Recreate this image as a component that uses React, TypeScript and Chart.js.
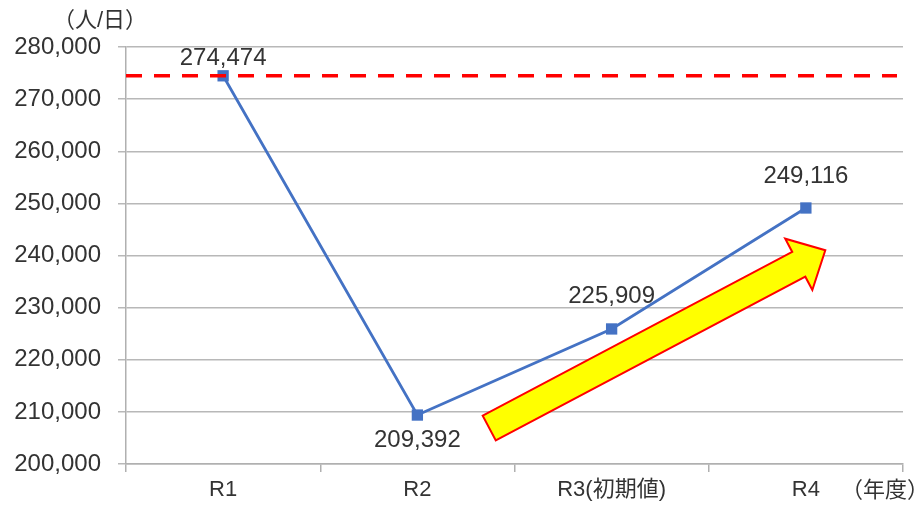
import React, { useEffect, useRef } from "react";
import { Chart, registerables } from "chart.js";

Chart.register(...registerables);

const categories = ["R1", "R2", "R3(初期値)", "R4"];
const visitors = [274474, 209392, 225909, 249116];
const targetValue = 274474;
const valueLabels = ["274,474", "209,392", "225,909", "249,116"];
const labelOffsets = [-17, 25, -33, -32];
const yMin = 200000;
const yMax = 280000;
const yStep = 10000;
const arrowFrom = { x: 1.37, y: 206900 };
const arrowTo = { x: 3.1, y: 241000 };
const yUnit = "（人/日）";
const xUnit = "（年度）";

const FONT = '"Liberation Sans", "Noto Sans CJK JP", sans-serif';
const TEXT = "#333333";

const overlayPlugin = {
  id: "overlay",
  afterDatasetsDraw(chart: any) {
    const { ctx, chartArea, scales } = chart;
    const xs = scales.x;
    const ys = scales.y;
    ctx.save();
    // target dashed line
    const ty = ys.getPixelForValue(targetValue);
    ctx.strokeStyle = "#FF0000";
    ctx.lineWidth = 3.5;
    ctx.setLineDash([16, 12]);
    ctx.beginPath();
    ctx.moveTo(chartArea.left, ty);
    ctx.lineTo(chartArea.right - 6, ty);
    ctx.stroke();
    ctx.setLineDash([]);

    // arrow
    const x0 = xs.getPixelForValue(arrowFrom.x);
    const y0 = ys.getPixelForValue(arrowFrom.y);
    const x1 = xs.getPixelForValue(arrowTo.x);
    const y1 = ys.getPixelForValue(arrowTo.y);
    const dx = x1 - x0;
    const dy = y1 - y0;
    const len = Math.hypot(dx, dy);
    const ux = dx / len;
    const uy = dy / len;
    const nx = -uy;
    const ny = ux;
    const shaft = 14;
    const head = 29;
    const headLen = 30;
    const bx = x1 - ux * headLen;
    const by = y1 - uy * headLen;
    ctx.beginPath();
    ctx.moveTo(x0 + nx * shaft, y0 + ny * shaft);
    ctx.lineTo(bx + nx * shaft, by + ny * shaft);
    ctx.lineTo(bx + nx * head, by + ny * head);
    ctx.lineTo(x1, y1);
    ctx.lineTo(bx - nx * head, by - ny * head);
    ctx.lineTo(bx - nx * shaft, by - ny * shaft);
    ctx.lineTo(x0 - nx * shaft, y0 - ny * shaft);
    ctx.closePath();
    ctx.fillStyle = "#FFFF00";
    ctx.fill();
    ctx.strokeStyle = "#FF0000";
    ctx.lineWidth = 2;
    ctx.lineJoin = "miter";
    ctx.stroke();

    // data labels
    ctx.font = `24px ${FONT}`;
    ctx.fillStyle = TEXT;
    ctx.textAlign = "center";
    ctx.textBaseline = "middle";
    const meta = chart.getDatasetMeta(0);
    meta.data.forEach((pt: any, i: number) => {
      ctx.fillText(valueLabels[i], pt.x, pt.y + labelOffsets[i]);
    });

    // unit labels
    ctx.font = `22px ${FONT}`;
    ctx.textAlign = "left";
    ctx.fillText(yUnit, chartArea.left - 73, 21);
    ctx.fillText(xUnit, chartArea.right - 62, chartArea.bottom + 27);
    ctx.restore();
  },
};

export default function App() {
  const ref = useRef<HTMLCanvasElement>(null);
  useEffect(() => {
    document.body.style.margin = "0";
    const chart = new Chart(ref.current!, {
      type: "line",
      data: {
        labels: categories,
        datasets: [
          {
            data: visitors,
            borderColor: "#4472C4",
            backgroundColor: "#4472C4",
            borderWidth: 2.8,
            pointStyle: "rect",
            pointRadius: 8,
            pointBorderWidth: 0,
            tension: 0,
          },
        ],
      },
      options: {
        animation: false,
        responsive: false,
        maintainAspectRatio: false,
        layout: { padding: { top: 47, right: 19, left: 0, bottom: 0 } },
        plugins: { legend: { display: false }, tooltip: { enabled: false } },
        scales: {
          x: {
            offset: true,
            grid: {
              offset: true,
              drawOnChartArea: false,
              drawTicks: true,
              tickLength: 8,
              color: "#B0B0B0",
              lineWidth: 1.5,
            },
            border: { display: true, color: "#B0B0B0", width: 1.5 },
            ticks: {
              color: TEXT,
              font: { family: FONT, size: 22 },
              padding: 5,
              maxRotation: 0,
              autoSkip: false,
            },
            afterFit(scale: any) {
              scale.height = 53;
            },
          },
          y: {
            min: yMin,
            max: yMax,
            grid: {
              color: "#B8B8B8",
              lineWidth: 1.5,
              tickLength: 8,
            },
            border: { display: true, color: "#B0B0B0", width: 1.5 },
            ticks: {
              stepSize: yStep,
              color: TEXT,
              font: { family: FONT, size: 24 },
              padding: 17,
              callback: (v: any) => Number(v).toLocaleString("en-US"),
            },
            afterFit(scale: any) {
              scale.width = 126;
            },
          },
        },
      },
      plugins: [overlayPlugin],
    });
    return () => chart.destroy();
  }, []);
  return (
    <div style={{ width: 922, height: 517 }}>
      <canvas ref={ref} width={922} height={517} style={{ display: "block" }} />
    </div>
  );
}
